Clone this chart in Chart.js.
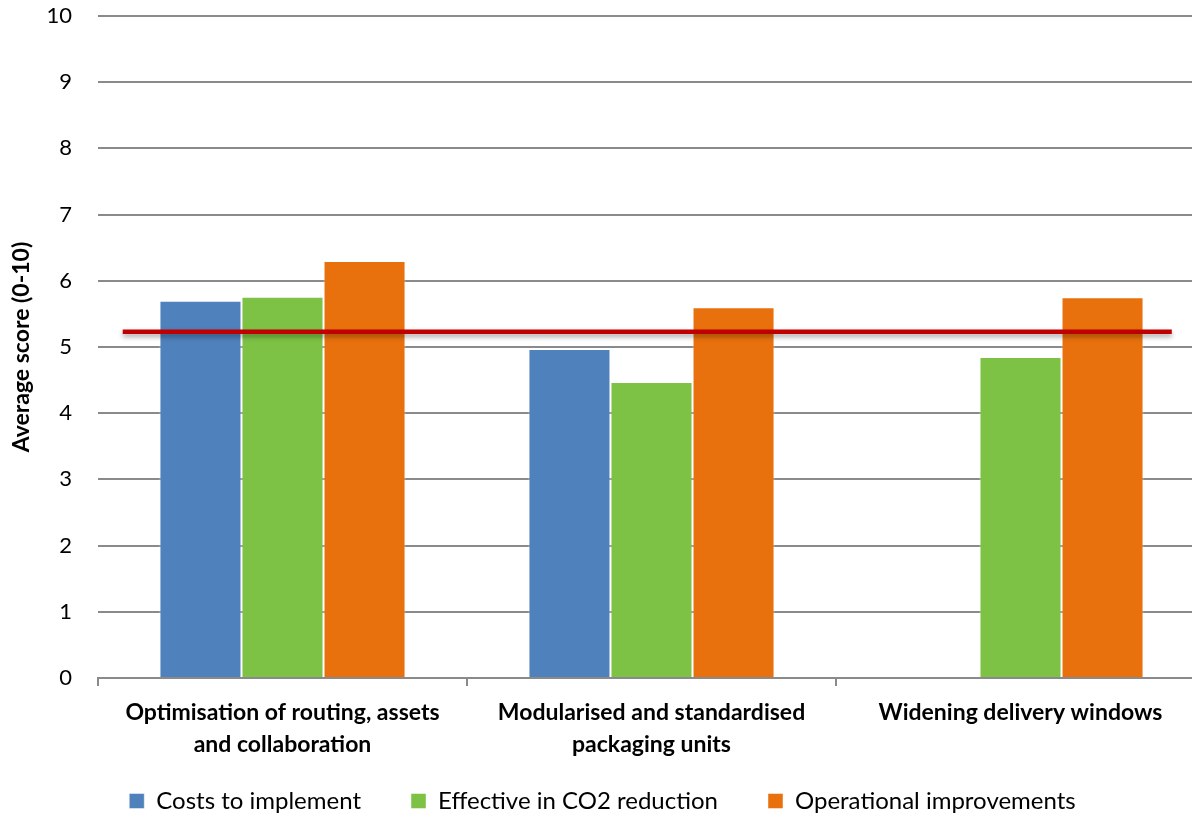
<!DOCTYPE html>
<html>
<head>
<meta charset="utf-8">
<script src="https://cdn.jsdelivr.net/npm/chart.js@4.4.1/dist/chart.umd.min.js"></script>
<style>
  html, body { margin: 0; padding: 0; background: #fff; overflow: hidden; }
  #wrap { position: relative; width: 1207px; height: 814px; }
</style>
</head>
<body>
<div id="wrap"><canvas id="chart"></canvas></div>
<script>
// categories (multi-line labels)
const categories = [
  ["Optimisation of routing, assets", "and collaboration"],
  ["Modularised and standardised", "packaging units"],
  ["Widening delivery windows"]
];
const seriesNames = ["Costs to implement", "Effective in CO2 reduction", "Operational improvements"];
const costs = [5.70, 4.97, null];
const effective = [5.76, 4.47, 4.85];
const operational = [6.30, 5.60, 5.75];
// average line: value, and where it starts / ends in category index units
const averageScore = 5.23;
const averageFrom = -0.433;
const averageTo = 2.41;
const yTicks = [0, 1, 2, 3, 4, 5, 6, 7, 8, 9, 10];

const colors = ["#4f81bd", "#7dc245", "#e9710d"];
const gridColor = "#8a8a8a";

// soft drop shadow under the red average line
const lineShadow = {
  id: "lineShadow",
  beforeDatasetDraw(chart, args) {
    if (args.meta.type !== "line") return;
    const ctx = chart.ctx;
    ctx.save();
    ctx.shadowColor = "rgba(0,0,0,0.35)";
    ctx.shadowBlur = 5;
    ctx.shadowOffsetY = 3;
  },
  afterDatasetDraw(chart, args) {
    if (args.meta.type !== "line") return;
    chart.ctx.restore();
  }
};

// legend box is squeezed by maxHeight; grow it upward so the row (drawn at top + padding) is visible
const legendNudge = {
  id: "legendNudge",
  afterLayout(chart) {
    const lg = chart.legend;
    if (!lg) return;
    lg.top -= 29;
  }
};

const barDs = (label, data, color) => ({
  type: "bar",
  label,
  data,
  backgroundColor: color,
  borderColor: "rgba(255,255,255,0.45)",
  borderWidth: 1,
  categoryPercentage: 0.667,
  barPercentage: 1,
  order: 2
});

new Chart(document.getElementById("chart"), {
  type: "bar",
  data: {
    labels: categories,
    datasets: [
      barDs(seriesNames[0], costs, colors[0]),
      barDs(seriesNames[1], effective, colors[1]),
      barDs(seriesNames[2], operational, colors[2]),
      {
        type: "line",
        label: "Average",
        parsing: false,
        data: [
          { x: averageFrom, y: averageScore },
          { x: averageTo, y: averageScore }
        ],
        borderColor: "#c00000",
        borderWidth: 4.5,
        pointRadius: 0,
        borderCapStyle: "butt",
        order: 0
      }
    ]
  },
  options: {
    responsive: true,
    maintainAspectRatio: false,
    animation: false,
    layout: { padding: { top: 0, right: 2, left: 0, bottom: 0 } },
    scales: {
      x: {
        type: "category",
        offset: true,
        grid: {
          offset: true,
          drawOnChartArea: false,
          drawTicks: true,
          tickLength: 8,
          color: gridColor,
          lineWidth: 2
        },
        border: { display: true, color: gridColor, width: 2 },
        ticks: {
          color: "#000",
          padding: 10,
          maxRotation: 0,
          autoSkip: false,
          font: { family: "Lato", size: 23, weight: "bold", lineHeight: 1.42 }
        },
        afterFit(scale) { scale.height = 90; }
      },
      y: {
        min: 0,
        max: 10,
        afterBuildTicks(scale) { scale.ticks = yTicks.map(v => ({ value: v })); },
        grid: { color: gridColor, lineWidth: 2, drawTicks: false },
        border: { display: false },
        ticks: {
          color: "#000",
          padding: 26,
          font: { family: "Lato", size: 22 }
        },
        title: {
          display: true,
          text: "Average score (0-10)",
          color: "#000",
          padding: { top: 8, bottom: 0 },
          font: { family: "Lato", size: 23, weight: "bold" }
        },
        afterFit(scale) {
          scale.width = 98;
          scale.paddingTop = 16;
          scale.paddingBottom = 0;
        }
      }
    },
    plugins: {
      legend: {
        position: "bottom",
        maxHeight: 46,
        labels: {
          filter: item => item.datasetIndex < 3,
          color: "#000",
          boxWidth: 15,
          boxHeight: 15,
          padding: 50,
          font: { family: "Lato", size: 24 }
        }
      },
      tooltip: { enabled: false }
    }
  },
  plugins: [lineShadow, legendNudge]
});
</script>
</body>
</html>
